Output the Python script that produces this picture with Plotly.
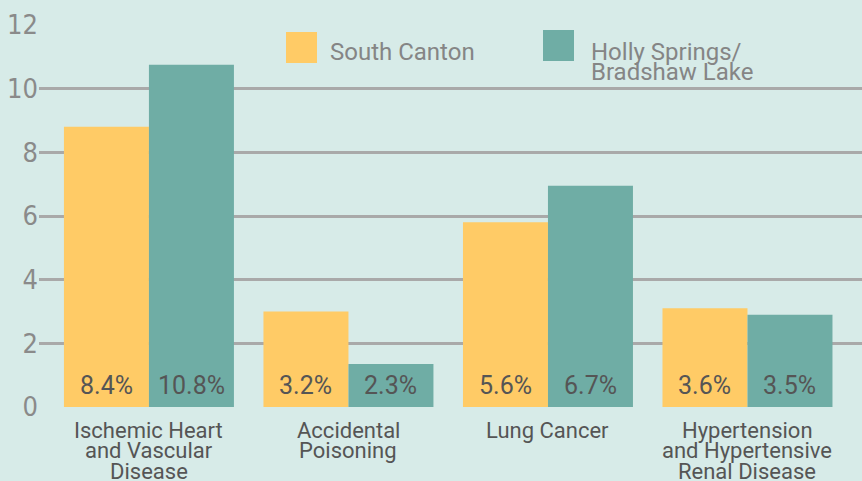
import plotly.graph_objects as go

categories = ["Ischemic Heart<br>and Vascular<br>Disease", "Accidental<br>Poisoning",
              "Lung Cancer", "Hypertension<br>and Hypertensive<br>Renal Disease"]
series_names = ["South Canton", "Holly Springs/<br>Bradshaw Lake"]
south_canton = [8.8, 3.0, 5.8, 3.1]
holly_springs = [10.75, 1.35, 6.95, 2.9]
south_labels = ["8.4%", "3.2%", "5.6%", "3.6%"]
holly_labels = ["10.8%", "2.3%", "6.7%", "3.5%"]
y_ticks = [0, 2, 4, 6, 8, 10, 12]

colors = ["#ffcb66", "#6fada5"]
bg = "#d7ebe8"
W, H = 862, 481
L, R, T, B = 39, 0, 25, 74
pw, ph = W - L - R, H - T - B

fig = go.Figure()
for name, vals, col in zip(series_names, [south_canton, holly_springs], colors):
    fig.add_trace(go.Bar(x=categories, y=vals, name=name, marker_color=col,
                         marker_line_width=0, showlegend=False, hoverinfo="skip"))

ann = []
# value labels
for labels, shift in [(south_labels, -42.5), (holly_labels, 42.5)]:
    for c, t in zip(categories, labels):
        ann.append(dict(x=c, y=0.69, xref="x", yref="y", text=t, showarrow=False,
                        xshift=shift, yanchor="middle",
                        font=dict(family="Roboto", size=25, color="#555555")))
# category labels
for c in categories:
    for i, line in enumerate(c.split("<br>")):
        ann.append(dict(x=c, y=0, xref="x", yref="paper", text=line, showarrow=False,
                        yanchor="middle", yshift=-(23 + i * 20.5),
                        font=dict(family="Roboto", size=22, color="#555555")))

# legend (manual)
def px_x(p):
    return (p - L) / pw
def px_y(p):
    return (H - B - p) / ph

shapes = []
legend_pos = [(286, 32, 328, 52), (543, 30, 589, 52)]
for name, col, (sx, sy, tx, ty) in zip(series_names, colors, legend_pos):
    shapes.append(dict(type="rect", xref="paper", yref="paper",
                       x0=px_x(sx), x1=px_x(sx + 31), y0=px_y(sy + 31), y1=px_y(sy),
                       fillcolor=col, line_width=0, layer="above"))
    for i, line in enumerate(name.split("<br>")):
        ann.append(dict(x=px_x(tx), y=px_y(ty + i * 20), xref="paper", yref="paper",
                        text=line, showarrow=False, xanchor="left", yanchor="middle",
                        font=dict(family="Roboto", size=24, color="#858585")))

fig.update_layout(
    width=W, height=H, margin=dict(l=L, r=R, t=T, b=B),
    paper_bgcolor=bg, plot_bgcolor=bg,
    barmode="group", bargap=0.148, bargroupgap=0,
    annotations=ann, shapes=shapes, hovermode=False,
    xaxis=dict(type="category", range=[-0.551, 3.574], showticklabels=False,
               showgrid=False, zeroline=False, showline=False),
    yaxis=dict(range=[0, 12], tickvals=y_ticks, ticktext=[str(v) for v in y_ticks],
               showgrid=True, gridcolor="#a9a9a9", gridwidth=2.5,
               zeroline=False, showline=False, ticks="",
               tickfont=dict(family="DejaVu Sans Condensed, Roboto", size=27,
                             color="#8a8a8a")),
)
fig.write_html("out.html", config={"displayModeBar": False},
               post_script="document.body.style.margin='0';document.body.style.background='%s';" % bg)
